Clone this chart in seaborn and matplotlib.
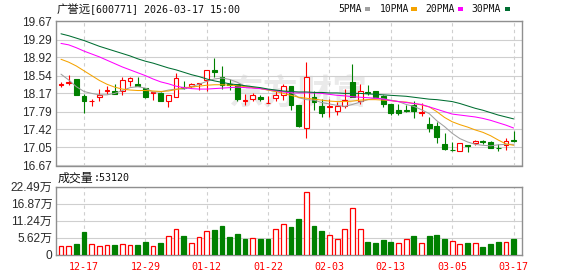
import matplotlib
matplotlib.use("Agg")
import matplotlib.pyplot as plt
import seaborn as sns
import numpy as np
import pandas as pd
from matplotlib.patches import Rectangle

# ---------------- data ----------------
opens = [18.34, 18.38, 18.46, 18.12, 18.01, 18.09, 18.22, 18.23, 18.22, 18.42,
         18.37, 18.29, 18.17, 18.18, 18.01, 18.10, 18.31, 18.32, 18.36, 18.44,
         18.65, 18.51, 18.36, 18.36, 18.02, 18.05, 18.09, 17.96, 18.08, 18.14,
         18.32, 17.92, 17.44, 18.10, 17.90, 17.88, 17.81, 17.90, 18.41, 18.02,
         18.20, 18.21, 18.12, 17.94, 17.83, 17.83, 17.92, 17.77, 17.53, 17.49,
         17.11, 17.00, 16.98, 17.10, 17.13, 17.17, 17.15, 17.04, 17.09, 17.20]
closes = [18.36, 18.41, 18.14, 18.01, 18.02, 18.14, 18.25, 18.16, 18.45, 18.48,
          18.32, 18.09, 18.19, 18.01, 18.14, 18.49, 18.29, 18.37, 18.38, 18.65,
          18.62, 18.35, 18.35, 18.06, 18.04, 18.14, 18.06, 17.98, 18.14, 18.33,
          17.93, 17.50, 18.51, 17.99, 17.76, 17.90, 17.90, 18.03, 18.10, 18.23,
          18.18, 18.10, 17.95, 17.76, 17.77, 17.81, 17.81, 17.79, 17.44, 17.27,
          17.02, 16.99, 17.13, 17.08, 17.17, 17.15, 17.04, 17.03, 17.18, 17.18]
highs = [18.41, 18.56, 18.46, 18.16, 18.06, 18.27, 18.32, 18.37, 18.51, 18.51,
         18.52, 18.29, 18.19, 18.19, 18.14, 18.59, 18.43, 18.38, 18.38, 18.65,
         18.90, 18.75, 18.47, 18.36, 18.16, 18.18, 18.14, 18.11, 18.23, 18.36,
         18.33, 17.92, 18.83, 18.21, 18.05, 18.05, 17.99, 18.26, 18.78, 18.36,
         18.35, 18.21, 18.14, 17.94, 17.94, 17.92, 18.01, 17.97, 17.68, 17.58,
         17.34, 17.16, 17.13, 17.10, 17.21, 17.21, 17.17, 17.11, 17.24, 17.39]
lows = [18.30, 18.34, 18.14, 17.76, 17.90, 18.02, 18.15, 18.16, 18.13, 18.33,
        18.32, 18.07, 18.03, 18.01, 17.88, 18.10, 18.27, 18.29, 18.25, 18.23,
        18.51, 18.27, 18.24, 18.02, 17.92, 18.02, 18.02, 17.96, 18.02, 18.04,
        17.83, 17.48, 17.24, 17.83, 17.68, 17.68, 17.72, 17.86, 18.10, 17.94,
        18.14, 18.10, 17.88, 17.72, 17.72, 17.79, 17.66, 17.69, 17.37, 17.14,
        17.00, 16.98, 16.98, 16.96, 17.09, 17.11, 17.03, 16.98, 17.00, 17.16]

ma5 = [18.57, 18.45, 18.31, 18.21, 18.17, 18.14, 18.14, 18.17, 18.23, 18.29,
       18.31, 18.28, 18.20, 18.20, 18.24, 18.26, 18.26, 18.31, 18.36, 18.42,
       18.47, 18.49, 18.46, 18.40, 18.32, 18.29, 18.27, 18.24, 18.21, 18.21,
       18.20, 18.08, 18.04, 18.03, 17.98, 17.95, 17.92, 17.90, 17.94, 17.99,
       18.04, 18.07, 18.06, 18.03, 18.00, 17.94, 17.90, 17.83, 17.75, 17.60,
       17.48, 17.34, 17.23, 17.16, 17.11, 17.09, 17.08, 17.10, 17.11, 17.11]
ma10 = [18.88, 18.82, 18.74, 18.64, 18.54, 18.44, 18.36, 18.30, 18.26, 18.24,
        18.23, 18.23, 18.22, 18.21, 18.22, 18.25, 18.29, 18.30, 18.32, 18.34,
        18.35, 18.35, 18.34, 18.33, 18.31, 18.29, 18.27, 18.24, 18.21, 18.17,
        18.13, 18.09, 18.07, 18.05, 18.03, 18.01, 18.00, 18.00, 18.01, 18.03,
        18.04, 18.04, 18.03, 18.02, 18.00, 17.99, 17.96, 17.93, 17.89, 17.79,
        17.67, 17.58, 17.52, 17.47, 17.41, 17.36, 17.29, 17.20, 17.12, 17.09]
ma20 = [19.21, 19.18, 19.12, 19.05, 18.99, 18.93, 18.86, 18.79, 18.72, 18.66,
        18.60, 18.54, 18.47, 18.41, 18.37, 18.32, 18.29, 18.27, 18.26, 18.26,
        18.27, 18.28, 18.29, 18.30, 18.29, 18.28, 18.27, 18.25, 18.23, 18.20,
        18.18, 18.18, 18.18, 18.18, 18.17, 18.15, 18.13, 18.12, 18.10, 18.09,
        18.08, 18.07, 18.05, 18.02, 18.00, 17.98, 17.96, 17.94, 17.89, 17.84,
        17.79, 17.74, 17.72, 17.70, 17.68, 17.65, 17.61, 17.56, 17.51, 17.45]
ma30 = [19.41, 19.37, 19.32, 19.27, 19.21, 19.15, 19.10, 19.05, 19.00, 18.95,
        18.89, 18.84, 18.80, 18.75, 18.70, 18.66, 18.61, 18.56, 18.52, 18.47,
        18.43, 18.40, 18.37, 18.35, 18.33, 18.31, 18.29, 18.26, 18.24, 18.22,
        18.21, 18.20, 18.20, 18.19, 18.19, 18.18, 18.18, 18.17, 18.17, 18.17,
        18.16, 18.15, 18.14, 18.13, 18.12, 18.11, 18.09, 18.07, 18.05, 18.04,
        18.02, 18.00, 17.96, 17.91, 17.86, 17.82, 17.77, 17.72, 17.68, 17.64]

# volume in 万 (10k shares)
volume = [2.85, 2.85, 3.50, 7.46, 3.40, 2.74, 3.18, 3.18, 3.40, 3.07,
          3.18, 4.17, 2.74, 3.84, 6.14, 8.34, 6.14, 3.73, 5.70, 7.68,
          8.12, 9.43, 5.81, 6.80, 5.16, 5.37, 5.16, 5.16, 8.34, 9.98,
          9.20, 11.74, 20.84, 9.43, 7.79, 6.36, 5.05, 8.34, 15.25, 8.34,
          4.17, 3.84, 4.83, 4.17, 3.73, 5.05, 6.14, 3.73, 6.14, 6.47,
          5.16, 4.39, 3.40, 3.84, 3.73, 2.52, 3.50, 4.17, 4.17, 5.312]
vol_dir = list("RRGGRRRGRRGGRGRRGRRRGGGGGRGGRRGGRGGRRRRRGGGGRRGRGGGRRGRGGGRG")

date_labels = ["12-17", "12-29", "01-12", "01-22", "02-03", "02-13", "03-05", "03-17"]
date_index = [3, 11, 19, 27, 35, 43, 51, 59]
price_ticks = [16.67, 17.05, 17.42, 17.79, 18.17, 18.54, 18.92, 19.29, 19.67]
price_labels = ["16.67", "17.05", "17.42", "17.79", "18.17", "18.54", "18.92", "19.29", "19.67"]
vol_ticks = [0, 5.62, 11.24, 16.87, 22.49]
vol_labels = ["0", "5.62万", "11.24万", "16.87万", "22.49万"]

title_name = "广誉远"
title_rest = "[600771] 2026-03-17 15:00"
ma_names = ["5PMA", "10PMA", "20PMA", "30PMA"]
vol_title = "成交量"
vol_value = ":53120"

# ---------------- style ----------------
RED = "#ff0000"
GREEN = "#008000"
MA_COLORS = ["#a0a0a0", "#f5a300", "#ff00ff", "#006e32"]
GRID = "#cfcfcf"
BORDER = "#8f8f8f"

sns.set_theme(style="white")
plt.rcParams["font.family"] = ["Liberation Sans", "Noto Sans CJK SC", "DejaVu Sans"]
MONO = ["DejaVu Sans Mono", "Noto Sans CJK SC"]
CJK = ["Noto Sans CJK SC", "DejaVu Sans"]

W, H = 578, 276
fig = plt.figure(figsize=(W / 100, H / 100), dpi=100)
fig.patch.set_facecolor("white")


def box(l, t, r, b):
    return [l / W, 1 - b / H, (r - l) / W, (b - t) / H]


axp = fig.add_axes(box(55.7, 21.3, 522.3, 165.5))
axv = fig.add_axes(box(55.7, 186.5, 522.3, 254.8))

n = len(closes)
idx = np.arange(n)
xlim = (-0.69, n + 0.14)

# ---------------- price panel ----------------
axp.text(0.52, 0.5, "东方财富", transform=axp.transAxes, fontsize=25,
         fontweight="bold", color="#eaeaea", ha="center", va="center",
         family=CJK, zorder=0.5)

bw = 0.62
for i in range(n):
    o, c, h, l = opens[i], closes[i], highs[i], lows[i]
    up = c >= o
    col = RED if up else GREEN
    axp.vlines(i, l, h, color=col, linewidth=0.8, zorder=2)
    body = max(abs(c - o), 0.012)
    axp.bar(i, body, bottom=min(o, c), width=bw,
            facecolor="white" if up else GREEN, edgecolor=col,
            linewidth=0.8, zorder=3)

df_ma = pd.DataFrame({"i": idx, "ma5": ma5, "ma10": ma10, "ma20": ma20, "ma30": ma30})
for name, col in zip(["ma5", "ma10", "ma20", "ma30"], MA_COLORS):
    sns.lineplot(data=df_ma, x="i", y=name, ax=axp, color=col, linewidth=0.75,
                 legend=False, zorder=4)

axp.set_xlim(*xlim)
axp.set_ylim(16.67, 19.67)
axp.set_yticks(price_ticks)
axp.set_yticklabels(price_labels)
axp.set_xticks(date_index)
axp.tick_params(axis="x", labelbottom=False, length=0)
axp.tick_params(axis="y", length=0, pad=2.5, labelsize=8.6, labelcolor="#2a2a2a")
axp.set_xlabel("")
axp.set_ylabel("")
axp.grid(False)
axp.yaxis.grid(True, color=GRID, linewidth=0.8, zorder=0)
axp.xaxis.grid(True, color=GRID, linewidth=0.8, linestyle=(0, (3, 3)), zorder=0)
axp.set_axisbelow(True)
for s in axp.spines.values():
    s.set_color(BORDER)
    s.set_linewidth(1.0)

# ---------------- volume panel ----------------
for i in range(n):
    up = vol_dir[i] == "R"
    col = RED if up else GREEN
    axv.bar(i, volume[i], width=bw, facecolor="white" if up else GREEN,
            edgecolor=col, linewidth=0.9, zorder=3)

axv.set_xlim(*xlim)
axv.set_ylim(0, 22.49)
axv.set_yticks(vol_ticks)
axv.set_yticklabels(vol_labels)
axv.set_xticks(date_index)
axv.set_xticklabels(date_labels, family=MONO, fontsize=7.2, color=RED)
axv.tick_params(axis="x", length=0, pad=5)
axv.tick_params(axis="y", length=0, pad=2.5, labelsize=8.6, labelcolor="#2a2a2a")
axv.grid(False)
axv.yaxis.grid(True, color=GRID, linewidth=0.8, zorder=0)
axv.xaxis.grid(True, color=GRID, linewidth=0.8, linestyle=(0, (3, 3)), zorder=0)
axv.set_axisbelow(True)
for s in axv.spines.values():
    s.set_color(BORDER)
    s.set_linewidth(1.0)

# ---------------- header texts ----------------
def ftext(x, y, s, **kw):
    fig.text(x / W, 1 - y / H, s, va="center", ha="left", **kw)

ftext(56.4, 9.2, title_name, family=CJK, fontsize=8.2, color="#111111")
ftext(90.2, 9.2, title_rest, family=MONO, fontsize=7.2, color="#111111")

leg_x = [338, 380, 425.4, 471.5]
sq_x = [364.6, 411.4, 457.5, 504.6]
for name, col, lx, sx in zip(ma_names, MA_COLORS, leg_x, sq_x):
    ftext(lx, 9.2, name, family=MONO, fontsize=7.0, color="#111111")
    fig.add_artist(Rectangle((sx / W, 1 - 11.2 / H), 5.5 / W, 4 / H,
                             transform=fig.transFigure, facecolor=col,
                             edgecolor="none"))

ftext(57.3, 177.7, vol_title, family=CJK, fontsize=8.6, color="#111111")
ftext(93.3, 177.7, vol_value, family=MONO, fontsize=7.2, color="#111111")

fig.savefig("out.png", dpi=100)
